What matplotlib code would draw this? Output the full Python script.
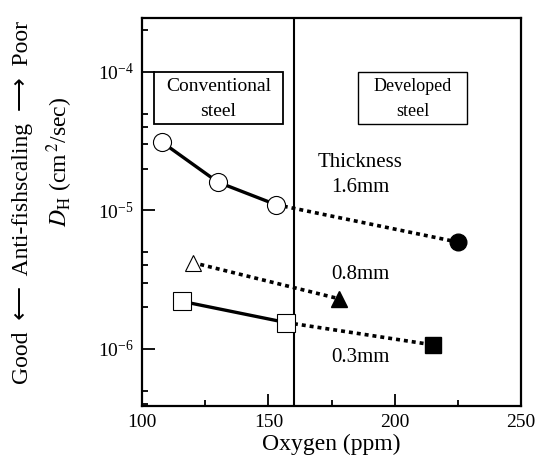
import matplotlib
matplotlib.use("Agg")
import matplotlib.pyplot as plt
from matplotlib.patches import Rectangle
from matplotlib.ticker import LogLocator, NullFormatter, FixedLocator

plt.rcParams['font.family'] = ['Liberation Serif', 'DejaVu Sans']
plt.rcParams['mathtext.fontset'] = 'stix'

# conventional steel (open markers, solid lines)
conv_o_16 = [108, 130, 153]
conv_d_16 = [3.1e-5, 1.6e-5, 1.1e-5]
conv_o_08 = [120]
conv_d_08 = [4.2e-6]
conv_o_03 = [116, 157]
conv_d_03 = [2.2e-6, 1.55e-6]

# developed steel (filled markers)
dev_o = [225, 178, 215]
dev_d = [5.9e-6, 2.3e-6, 1.07e-6]

thick_labels = ['1.6mm', '0.8mm', '0.3mm']

fig = plt.figure(figsize=(5.44, 4.67), dpi=100)
ax = fig.add_axes([0.261, 0.1306, 0.697, 0.831])

ax.set_yscale('log')
ax.set_xlim(100, 250)
ax.set_ylim(3.87e-7, 2.45e-4)

# solid lines between open markers
ax.plot(conv_o_16, conv_d_16, '-', color='black', lw=2.4, zorder=2)
ax.plot(conv_o_03, conv_d_03, '-', color='black', lw=2.4, zorder=2)

# dotted links to developed steel
dot = (0, (1.1, 1.1))
ax.plot([conv_o_16[-1], dev_o[0]], [conv_d_16[-1], dev_d[0]], linestyle=dot, color='black', lw=2.6, zorder=2)
ax.plot([conv_o_08[-1], dev_o[1]], [conv_d_08[-1], dev_d[1]], linestyle=dot, color='black', lw=2.6, zorder=2)
ax.plot([conv_o_03[-1], dev_o[2]], [conv_d_03[-1], dev_d[2]], linestyle=dot, color='black', lw=2.6, zorder=2)

# markers
ax.plot(conv_o_16, conv_d_16, 'o', ms=13, mfc='white', mec='black', mew=0.8, ls='none', zorder=3)
ax.plot(conv_o_08, conv_d_08, '^', ms=12, mfc='white', mec='black', mew=0.8, ls='none', zorder=3)
ax.plot(conv_o_03, conv_d_03, 's', ms=13, mfc='white', mec='black', mew=0.8, ls='none', zorder=3)
ax.plot(dev_o[0], dev_d[0], 'o', ms=12, color='black', zorder=3)
ax.plot(dev_o[1], dev_d[1], '^', ms=12, color='black', zorder=3)
ax.plot(dev_o[2], dev_d[2], 's', ms=12, color='black', zorder=3)

# boundary between conventional and developed steel
ax.axvline(160, color='black', lw=1.5, zorder=1)

# label boxes
ax.add_patch(Rectangle((104.7, 4.2e-5), 51.0, 1e-4 - 4.2e-5, fill=False, ec='black', lw=1.3))
ax.text(130.2, 7.8e-5, 'Conventional', ha='center', va='center', fontsize=14)
ax.text(130.2, 5.2e-5, 'steel', ha='center', va='center', fontsize=14)
ax.add_patch(Rectangle((185.5, 4.2e-5), 43.0, 1e-4 - 4.2e-5, fill=False, ec='black', lw=1.0))
ax.text(207, 7.8e-5, 'Developed', ha='center', va='center', fontsize=13)
ax.text(207, 5.2e-5, 'steel', ha='center', va='center', fontsize=13)

# thickness annotations
ax.text(186.3, 2.22e-5, 'Thickness', ha='center', va='center', fontsize=15)
ax.text(186.3, 1.47e-5, thick_labels[0], ha='center', va='center', fontsize=15)
ax.text(186.3, 3.45e-6, thick_labels[1], ha='center', va='center', fontsize=15)
ax.text(186.3, 8.6e-7, thick_labels[2], ha='center', va='center', fontsize=15)

# ticks
ax.xaxis.set_major_locator(FixedLocator([100, 150, 200, 250]))
ax.xaxis.set_minor_locator(FixedLocator([125, 175, 225]))
ax.yaxis.set_major_locator(LogLocator(base=10, numticks=10))
ax.yaxis.set_minor_locator(LogLocator(base=10, subs=[2, 3, 4, 5], numticks=10))
ax.yaxis.set_minor_formatter(NullFormatter())
ax.tick_params(which='both', direction='in', top=False, right=False, width=1.3)
ax.tick_params(which='major', length=9, labelsize=14, pad=6)
ax.tick_params(which='minor', length=4.5)
for s in ax.spines.values():
    s.set_linewidth(1.6)

ax.set_xlabel('Oxygen (ppm)', fontsize=17, labelpad=2)

fig.text(0.042, 0.567, 'Good \u27f5 Anti-fishscaling \u27f6 Poor'.replace(' ', '  '), rotation=90,
         ha='center', va='center', fontsize=17)
fig.text(0.11, 0.653, r'$D_{\mathrm{H}}$ (cm$^{\,2}$/sec)', rotation=90,
         ha='center', va='center', fontsize=17)

fig.savefig('out.png', dpi=100)
